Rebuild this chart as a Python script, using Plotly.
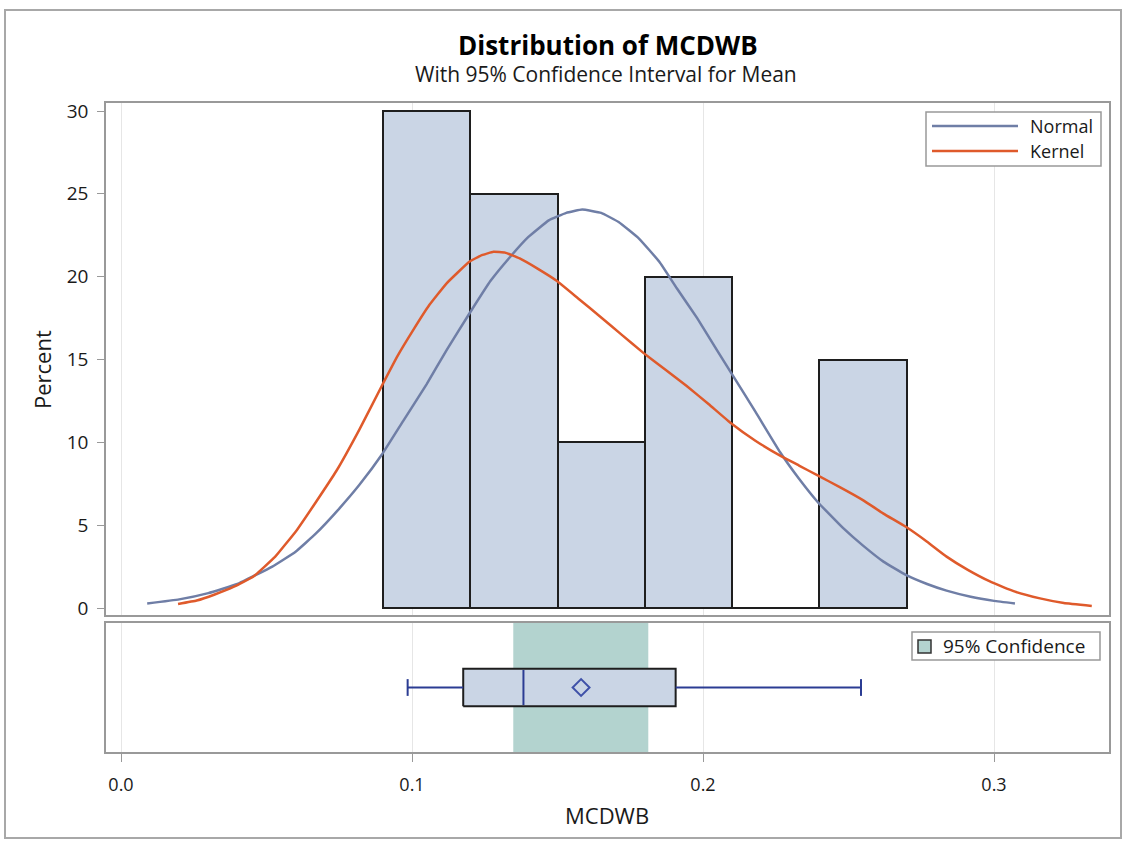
import plotly.graph_objects as go

W, H = 1126, 843

# ---------------- data ----------------
bin_left = [0.09, 0.12, 0.15, 0.18, 0.21, 0.24]
bin_width = 0.03
percent = [30, 25, 10, 20, 0, 15]

normal_x = [0.009, 0.020, 0.030, 0.040, 0.052, 0.060, 0.067, 0.075, 0.082, 0.0896,
            0.097, 0.105, 0.112, 0.120, 0.127, 0.134, 0.140, 0.147, 0.153, 0.1585,
            0.165, 0.171, 0.178, 0.185, 0.191, 0.198, 0.205, 0.2093, 0.218, 0.2265,
            0.233, 0.2394, 0.248, 0.2551, 0.262, 0.2697, 0.277, 0.2837, 0.292, 0.300, 0.3072]
normal_y = [0.27, 0.52, 0.9, 1.45, 2.5, 3.4, 4.5, 6.0, 7.45, 9.25,
            11.3, 13.5, 15.6, 17.85, 19.75, 21.25, 22.4, 23.4, 23.85, 24.05,
            23.85, 23.3, 22.3, 20.9, 19.3, 17.5, 15.5, 14.3, 11.85, 9.4,
            7.8, 6.4, 4.85, 3.75, 2.8, 2.0, 1.45, 1.05, 0.68, 0.43, 0.27]

kernel_x = [0.0196, 0.026, 0.032, 0.039, 0.0455, 0.053, 0.0604, 0.067, 0.0741, 0.082,
            0.0896, 0.095, 0.1005, 0.106, 0.1119, 0.1197, 0.124, 0.128, 0.132, 0.137,
            0.143, 0.1497, 0.157, 0.1646, 0.172, 0.1795, 0.187, 0.1944, 0.202, 0.2093,
            0.218, 0.2265, 0.233, 0.2394, 0.247, 0.2551, 0.262, 0.2697, 0.277, 0.2837,
            0.291, 0.2986, 0.307, 0.3158, 0.324, 0.3336]
kernel_y = [0.24, 0.45, 0.8, 1.3, 1.9, 3.1, 4.7, 6.4, 8.3, 10.8,
            13.4, 15.2, 16.8, 18.3, 19.6, 20.9, 21.3, 21.5, 21.45, 21.1,
            20.5, 19.75, 18.7, 17.6, 16.5, 15.4, 14.4, 13.4, 12.3, 11.2,
            10.1, 9.2, 8.6, 8.0, 7.3, 6.5, 5.7, 4.9, 4.0, 3.1,
            2.3, 1.6, 1.0, 0.58, 0.3, 0.12]

box_min, box_q1, box_median, box_q3, box_max = 0.0985, 0.1176, 0.1383, 0.1906, 0.2543
box_mean = 0.1581
ci_low, ci_high = 0.1348, 0.1812

x_ticks = [0.0, 0.1, 0.2, 0.3]
x_ticktext = ["0.0", "0.1", "0.2", "0.3"]
y_ticks = [0, 5, 10, 15, 20, 25, 30]

title_text = "Distribution of MCDWB"
subtitle_text = "With 95% Confidence Interval for Mean"
x_title = "MCDWB"
y_title = "Percent"
legend_labels = ["Normal", "Kernel"]
band_label = "95% Confidence"

# ---------------- styles ----------------
FONT = "Open Sans, Liberation Sans, Arial, sans-serif"
BAR_FILL = "#CAD5E5"
NORMAL_C = "#6F7EA6"
KERNEL_C = "#DF5A2B"
CI_C = "#B3D3CF"
BLUE = "#2B3C93"
FRAME = "#999999"
TXT = "#1A1A1A"

def px(x):
    return x / W

def py(y):
    return 1 - y / H

XR = [(106 - 121) / 2910.0, (1109 - 121) / 2910.0]
YR = [-(615 - 608) / 16.57, 30 + (111 - 103) / 16.57]

fig = go.Figure()

bin_mid = [b + bin_width / 2 for b in bin_left]
fig.add_trace(go.Bar(
    x=bin_mid, y=percent, width=bin_width,
    marker=dict(color=BAR_FILL, line=dict(color="#1E1E1E", width=2)),
    xaxis="x", yaxis="y", showlegend=False, hoverinfo="skip"))

fig.add_trace(go.Scatter(
    x=normal_x, y=normal_y, mode="lines",
    line=dict(color=NORMAL_C, width=2.5, shape="spline", smoothing=0.3),
    xaxis="x", yaxis="y", showlegend=False, name=legend_labels[0]))
fig.add_trace(go.Scatter(
    x=kernel_x, y=kernel_y, mode="lines",
    line=dict(color=KERNEL_C, width=2.5, shape="spline", smoothing=0.3),
    xaxis="x", yaxis="y", showlegend=False, name=legend_labels[1]))

# box plot (lower panel)
bc, bh, cap = 0.5, 0.146, 0.065
fig.add_trace(go.Scatter(
    x=[box_q1, box_q3, box_q3, box_q1, box_q1], y=[bc - bh, bc - bh, bc + bh, bc + bh, bc - bh],
    mode="lines", fill="toself", fillcolor=BAR_FILL, line=dict(color="#1E1E1E", width=2),
    xaxis="x2", yaxis="y2", showlegend=False, hoverinfo="skip"))
fig.add_trace(go.Scatter(
    x=[box_min, box_q1, None, box_q3, box_max, None, box_min, box_min, None, box_max, box_max,
       None, box_median, box_median],
    y=[bc, bc, None, bc, bc, None, bc - cap, bc + cap, None, bc - cap, bc + cap,
       None, bc - bh + 0.01, bc + bh - 0.01],
    mode="lines", line=dict(color=BLUE, width=2),
    xaxis="x2", yaxis="y2", showlegend=False, hoverinfo="skip"))
fig.add_trace(go.Scatter(
    x=[box_mean], y=[bc], mode="markers",
    marker=dict(symbol="diamond-open", size=13, color="#3F51A8", line=dict(width=2, color="#3F51A8")),
    xaxis="x2", yaxis="y2", showlegend=False, hoverinfo="skip"))

shapes = []
shapes.append(dict(type="rect", xref="x2", yref="y2 domain", x0=ci_low, x1=ci_high, y0=0, y1=1,
                   fillcolor=CI_C, line=dict(width=0), layer="below"))
shapes.append(dict(type="rect", xref="paper", yref="paper", x0=px(5), x1=px(1121), y0=py(838), y1=py(10),
                   line=dict(color="#A8A8A8", width=2), fillcolor="rgba(0,0,0,0)"))
shapes.append(dict(type="rect", xref="paper", yref="paper", x0=px(926), x1=px(1101), y0=py(166), y1=py(112),
                   line=dict(color=FRAME, width=1.5), fillcolor="white"))
shapes.append(dict(type="line", xref="paper", yref="paper", x0=px(932), x1=px(1018), y0=py(126), y1=py(126),
                   line=dict(color=NORMAL_C, width=2.5)))
shapes.append(dict(type="line", xref="paper", yref="paper", x0=px(932), x1=px(1018), y0=py(151), y1=py(151),
                   line=dict(color=KERNEL_C, width=2.5)))
shapes.append(dict(type="rect", xref="paper", yref="paper", x0=px(912), x1=px(1100), y0=py(660), y1=py(632),
                   line=dict(color=FRAME, width=1.5), fillcolor="white"))
shapes.append(dict(type="rect", xref="paper", yref="paper", x0=px(918), x1=px(931), y0=py(653), y1=py(640),
                   line=dict(color="#333333", width=1.5), fillcolor=CI_C))

annotations = [
    dict(text="<b>" + title_text + "</b>", x=px(608), y=py(45), xref="paper", yref="paper",
         showarrow=False, font=dict(family=FONT, size=26, color="#000000"), xanchor="center", yanchor="middle"),
    dict(text=subtitle_text, x=px(606), y=py(74), xref="paper", yref="paper",
         showarrow=False, font=dict(family=FONT, size=21, color=TXT), xanchor="center", yanchor="middle"),
    dict(text=legend_labels[0], x=px(1028), y=py(126), xref="paper", yref="paper", showarrow=False,
         font=dict(family=FONT, size=18, color=TXT), xanchor="left", yanchor="middle"),
    dict(text=legend_labels[1], x=px(1028), y=py(151), xref="paper", yref="paper", showarrow=False,
         font=dict(family=FONT, size=18, color=TXT), xanchor="left", yanchor="middle"),
    dict(text=band_label, x=px(941), y=py(646), xref="paper", yref="paper", showarrow=False,
         font=dict(family=FONT, size=19, color=TXT), xanchor="left", yanchor="middle"),
    dict(text=x_title, x=px(607), y=py(815), xref="paper", yref="paper", showarrow=False,
         font=dict(family=FONT, size=22, color=TXT), xanchor="center", yanchor="middle"),
    dict(text=y_title, x=px(42), y=py(370), xref="paper", yref="paper", showarrow=False, textangle=-90,
         font=dict(family=FONT, size=22, color=TXT), xanchor="center", yanchor="middle"),
]

fig.update_layout(
    width=W, height=H, margin=dict(l=0, r=0, t=0, b=0),
    paper_bgcolor="white", plot_bgcolor="white",
    bargap=0, showlegend=False,
    font=dict(family=FONT, color=TXT),
    xaxis=dict(domain=[px(106), px(1109)], range=XR, anchor="y",
               tickvals=x_ticks, showticklabels=False, ticks="",
               showgrid=True, gridcolor="#E6E6E6", gridwidth=1, zeroline=False,
               showline=True, mirror=True, linecolor=FRAME, linewidth=1.5, automargin=False),
    yaxis=dict(domain=[py(615), py(103)], range=YR, anchor="x",
               tickvals=y_ticks, ticks="outside", ticklen=7, tickcolor=FRAME, tickwidth=1,
               ticklabelstandoff=5,
               tickfont=dict(family=FONT, size=19, color=TXT),
               showgrid=False, zeroline=False,
               showline=True, mirror=True, linecolor=FRAME, linewidth=1.5, automargin=False),
    xaxis2=dict(domain=[px(106), px(1109)], range=XR, anchor="y2",
                tickvals=x_ticks, ticktext=x_ticktext, ticks="outside", ticklen=8, tickcolor=FRAME,
                ticklabelstandoff=8,
                tickfont=dict(family=FONT, size=18, color=TXT),
                showgrid=True, gridcolor="#E6E6E6", gridwidth=1, zeroline=False,
                showline=True, mirror=True, linecolor=FRAME, linewidth=1.5, automargin=False),
    yaxis2=dict(domain=[py(752), py(623)], range=[0, 1], anchor="x2",
                showticklabels=False, ticks="", showgrid=False, zeroline=False,
                showline=True, mirror=True, linecolor=FRAME, linewidth=1.5, automargin=False),
    shapes=shapes, annotations=annotations,
)

fig.write_html("out.html")
